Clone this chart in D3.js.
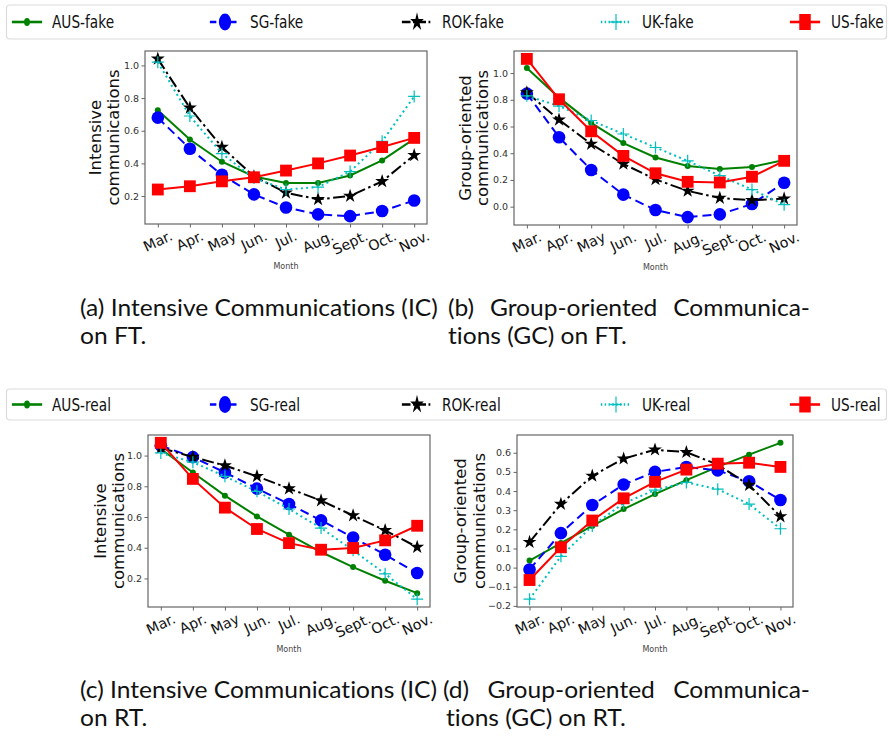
<!DOCTYPE html>
<html>
<head>
<meta charset="utf-8">
<script src="https://cdn.jsdelivr.net/npm/d3@7"></script>
<style>
  body { margin: 0; background: #fff; }
  svg { display: block; }
</style>
</head>
<body>
<script>
var months = ["Mar.", "Apr.", "May", "Jun.", "Jul.", "Aug.", "Sept.", "Oct.", "Nov."];
var countries = ["AUS", "SG", "ROK", "UK", "US"];

// (a) intensive communications, fake tweets (AUS, SG, ROK, UK, US)
var icFT = [
  [0.725, 0.546, 0.41, 0.32, 0.28, 0.28, 0.326, 0.418, 0.55],
  [0.68, 0.49, 0.33, 0.21, 0.13, 0.088, 0.077, 0.108, 0.173],
  [1.04, 0.74, 0.50, 0.32, 0.22, 0.18, 0.20, 0.29, 0.45],
  [1.02, 0.69, 0.46, 0.31, 0.24, 0.255, 0.35, 0.535, 0.81],
  [0.24, 0.26, 0.29, 0.315, 0.356, 0.40, 0.448, 0.50, 0.556]
];
// (b) group-oriented communications, fake tweets
var gcFT = [
  [1.038, 0.816, 0.627, 0.476, 0.368, 0.305, 0.282, 0.297, 0.35],
  [0.846, 0.52, 0.275, 0.09, -0.025, -0.078, -0.058, 0.02, 0.179],
  [0.854, 0.65, 0.469, 0.32, 0.204, 0.118, 0.065, 0.048, 0.06],
  [0.83, 0.753, 0.645, 0.544, 0.443, 0.343, 0.232, 0.128, 0.015],
  [1.106, 0.804, 0.564, 0.38, 0.25, 0.186, 0.181, 0.224, 0.343]
];
// (c) intensive communications, real tweets
var icRT = [
  [1.043, 0.89, 0.739, 0.604, 0.485, 0.372, 0.274, 0.185, 0.104],
  [1.065, 0.99, 0.89, 0.785, 0.685, 0.578, 0.467, 0.354, 0.235],
  [1.05, 0.99, 0.935, 0.865, 0.785, 0.707, 0.61, 0.513, 0.404],
  [1.017, 0.957, 0.865, 0.767, 0.652, 0.528, 0.383, 0.23, 0.065],
  [1.083, 0.848, 0.661, 0.522, 0.43, 0.387, 0.398, 0.448, 0.543]
];
// (d) group-oriented communications, real tweets
var gcRT = [
  [0.037, 0.128, 0.218, 0.306, 0.384, 0.457, 0.526, 0.59, 0.652],
  [-0.01, 0.18, 0.327, 0.434, 0.5, 0.526, 0.508, 0.451, 0.353],
  [0.133, 0.332, 0.479, 0.569, 0.616, 0.603, 0.538, 0.431, 0.267],
  [-0.165, 0.059, 0.218, 0.336, 0.405, 0.445, 0.41, 0.332, 0.203],
  [-0.065, 0.106, 0.246, 0.362, 0.448, 0.512, 0.543, 0.548, 0.526]
];

var ticksIC = [0.2, 0.4, 0.6, 0.8, 1.0];
var ticksGCft = [0.0, 0.2, 0.4, 0.6, 0.8, 1.0];
var ticksGCrt = [-0.2, -0.1, 0.0, 0.1, 0.2, 0.3, 0.4, 0.5, 0.6];

var styles = [
  {color: "#008000", dash: null,            marker: "dot"},
  {color: "#0000ff", dash: "9,5",           marker: "circle"},
  {color: "#000000", dash: "12,3.5,2.5,3.5", marker: "star"},
  {color: "#00bfbf", dash: "2,3.3",         marker: "plus"},
  {color: "#ff0000", dash: null,            marker: "square"}
];

var width = 889, height = 737;
var svg = d3.select("body").append("svg")
    .attr("width", width)
    .attr("height", height);

function drawMarker(g, kind, color) {
  if (kind == "dot") g.append("circle").attr("r", 3).attr("fill", color);
  else if (kind == "circle") g.append("circle").attr("r", 6.3).attr("fill", color);
  else if (kind == "square") g.append("path").attr("d", d3.symbol(d3.symbolSquare, 140)()).attr("fill", color);
  else if (kind == "star") g.append("path").attr("d", d3.symbol(d3.symbolStar, 60)()).attr("fill", color);
  else if (kind == "plus") g.append("path").attr("d", "M-6,0H6M0,-6V6").attr("stroke", color).attr("stroke-width", 1.2).attr("fill", "none");
}

function legend(cy, top, bottom, suffix) {
  var g = svg.append("g");
  g.append("rect")
      .attr("x", 6.5).attr("y", top)
      .attr("width", 880).attr("height", bottom - top)
      .attr("rx", 3)
      .attr("fill", "#fff").attr("stroke", "#dcdcdc").attr("stroke-width", 1.2);
  var mx = [27, 225, 417, 616, 805];
  var tx = [52, 250, 442, 642, 831];
  countries.forEach((c, i) => {
    var s = styles[i];
    var m = g.append("g").attr("transform", `translate(${mx[i]},${cy}) scale(0.72,1)`);
    m.append("line")
        .attr("x1", -21).attr("x2", 21)
        .attr("stroke", s.color).attr("stroke-width", 2.6)
        .attr("stroke-dasharray", s.dash);
    var mk = m.append("g").attr("transform", "scale(1.35)");
    drawMarker(mk, s.marker, s.color);
    g.append("text")
        .attr("transform", `translate(${tx[i]},${cy}) scale(0.74,1)`)
        .attr("dy", "0.35em")
        .attr("font-family", "DejaVu Sans")
        .attr("font-size", 18.5)
        .attr("fill", "#111")
        .text(`${c}-${suffix}`);
  });
}

legend(22, 5, 39, "fake");
legend(404.5, 389, 420, "real");

function panel(data, ticks, box, ylabel) {
  var g = svg.append("g");
  var x = d3.scalePoint().domain(months).range([box.l, box.r]).padding(0.4);
  var all = d3.merge(data);
  var ext = d3.extent(all);
  var pad = (ext[1] - ext[0]) * 0.05;
  var y = d3.scaleLinear().domain([ext[0] - pad, ext[1] + pad]).range([box.b, box.t]);

  var line = d3.line().x((d, i) => x(months[i])).y(d => y(d));

  data.forEach((vals, k) => {
    var s = styles[k];
    g.append("path")
        .attr("d", line(vals))
        .attr("fill", "none")
        .attr("stroke", s.color)
        .attr("stroke-width", 2)
        .attr("stroke-dasharray", s.dash);
    vals.forEach((v, i) => {
      var m = g.append("g").attr("transform", `translate(${x(months[i])},${y(v)})`);
      drawMarker(m, s.marker, s.color);
    });
  });

  // frame
  g.append("rect")
      .attr("x", box.l).attr("y", box.t)
      .attr("width", box.r - box.l).attr("height", box.b - box.t)
      .attr("fill", "none").attr("stroke", "#666").attr("stroke-width", 1.2);

  var yAxis = g.append("g")
      .attr("transform", `translate(${box.l},0)`)
      .call(d3.axisLeft(y).tickValues(ticks).tickFormat(d3.format(".1f")).tickSize(3.5).tickPadding(2.5));
  yAxis.select(".domain").remove();
  yAxis.selectAll("line").attr("stroke", "#666");
  yAxis.selectAll("text").attr("font-family", "DejaVu Sans").attr("font-size", 9.5).attr("fill", "#333");

  var xAxis = g.append("g")
      .attr("transform", `translate(0,${box.b})`)
      .call(d3.axisBottom(x).tickSize(3.5).tickFormat(""));
  xAxis.select(".domain").remove();
  xAxis.selectAll("line").attr("stroke", "#666");

  var ang = 25 * Math.PI / 180;
  months.forEach(m => {
    var t = g.append("text")
        .attr("font-family", "DejaVu Sans")
        .attr("font-size", 14.3)
        .attr("fill", "#111")
        .attr("text-anchor", "middle")
        .attr("dy", "0.35em")
        .text(m);
    var w = t.node().getComputedTextLength();
    var h = 10.5;
    var H = w * Math.sin(ang) + h * Math.cos(ang);
    var cy = box.b + 6 + H / 2;
    t.attr("transform", `translate(${x(m)},${cy}) rotate(-25)`);
  });

  g.append("text")
      .attr("x", (box.l + box.r) / 2)
      .attr("y", box.b + 45)
      .attr("text-anchor", "middle")
      .attr("font-family", "DejaVu Sans")
      .attr("font-size", 8)
      .attr("fill", "#444")
      .text("Month");

  var cyl = (box.t + box.b) / 2;
  ylabel.forEach((txt, i) => {
    g.append("text")
        .attr("transform", `translate(${box.lx[i]},${cyl}) rotate(-90)`)
        .attr("text-anchor", "middle")
        .attr("dy", "0.35em")
        .attr("font-family", "DejaVu Sans")
        .attr("font-size", 16.5)
        .attr("fill", "#111")
        .text(txt);
  });
}

panel(icFT, ticksIC, {l: 145, r: 427, t: 51, b: 224, lx: [95, 113]}, ["Intensive", "communications"]);
panel(gcFT, ticksGCft, {l: 514, r: 797, t: 51, b: 225, lx: [465, 482]}, ["Group-oriented", "communications"]);
panel(icRT, ticksIC, {l: 148, r: 430, t: 435, b: 607, lx: [100, 118]}, ["Intensive", "communications"]);
panel(gcRT, ticksGCrt, {l: 517, r: 793, t: 435, b: 607, lx: [460, 479]}, ["Group-oriented", "communications"]);

// captions: the caption face is wider than Lato, so glyphs are stretched
// horizontally to fit line (a); justified lines widen their word gaps
var capFont = 22.5;
var probe = svg.append("text").attr("font-family", "Lato").attr("font-size", capFont)
    .style("font-variant-ligatures", "none").text("(a) Intensive Communications (IC)");
var stretch = 358 / probe.node().getComputedTextLength();
probe.remove();

function caption(x, y, txt, len) {
  var t = svg.append("text")
      .attr("transform", `translate(${x},${y}) scale(${stretch},1)`)
      .attr("font-family", "Lato")
      .attr("font-size", capFont)
      .attr("fill", "#111")
      .style("font-variant-ligatures", "none")
      .text(txt);
  if (len) {
    var w = t.node().getComputedTextLength();
    var gaps = txt.split(" ").length - 1;
    t.attr("word-spacing", (len / stretch - w) / gaps);
  }
}
caption(80, 316, "(a) Intensive Communications (IC)");
caption(80, 344, "on FT.");
caption(448, 316, "(b) Group-oriented Communica-", 362);
caption(448, 344, "tions (GC) on FT.");
caption(80, 698, "(c) Intensive Communications (IC)");
caption(80, 726, "on RT.");
caption(443, 698, "(d) Group-oriented Communica-", 367);
caption(446, 726, "tions (GC) on RT.");
</script>
</body>
</html>
